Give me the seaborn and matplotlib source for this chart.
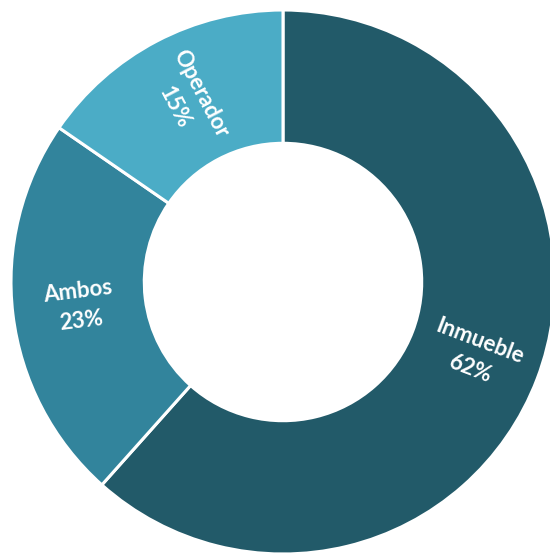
import numpy as np
import matplotlib
matplotlib.use("Agg")
import matplotlib.pyplot as plt
import seaborn as sns

categories = ["Inmueble", "Ambos", "Operador"]
values = [61.6, 23.0, 15.4]
pct_labels = ["62%", "23%", "15%"]
colors = ["#225A69", "#32849C", "#4BACC6"]

sns.set_theme(style="white")
plt.rcParams['font.family'] = ['Lato', 'DejaVu Sans']

fig = plt.figure(figsize=(5.5, 5.54), dpi=100)
ax = fig.add_axes([0, 0, 1, 1])
R = 272.0
cx, cy = 283.0, 554 - 282.0
ax.axis('off')

wedges, _ = ax.pie(values, colors=colors, startangle=90, counterclock=False,
                   radius=1.0, wedgeprops=dict(width=0.49, edgecolor='white', linewidth=2.2))
ax.set_aspect('equal')
ax.set_xlim(-cx / R, (550 - cx) / R)
ax.set_ylim(-cy / R, (554 - cy) / R)

rlab = 0.755
for w, cat, lab in zip(wedges, categories, pct_labels):
    th = (w.theta1 + w.theta2) / 2.0
    t = np.deg2rad(th)
    x, y = rlab * np.cos(t), rlab * np.sin(t)
    rot = th
    if rot > 90:
        rot -= 180
    if rot < -90:
        rot += 180
    ax.text(x, y, f"{cat}\n{lab}", ha='center', va='center', rotation=rot,
            rotation_mode='anchor', color='white', fontsize=16, fontweight='bold',
            linespacing=1.5, multialignment='center')

fig.savefig("out.png", dpi=100)
